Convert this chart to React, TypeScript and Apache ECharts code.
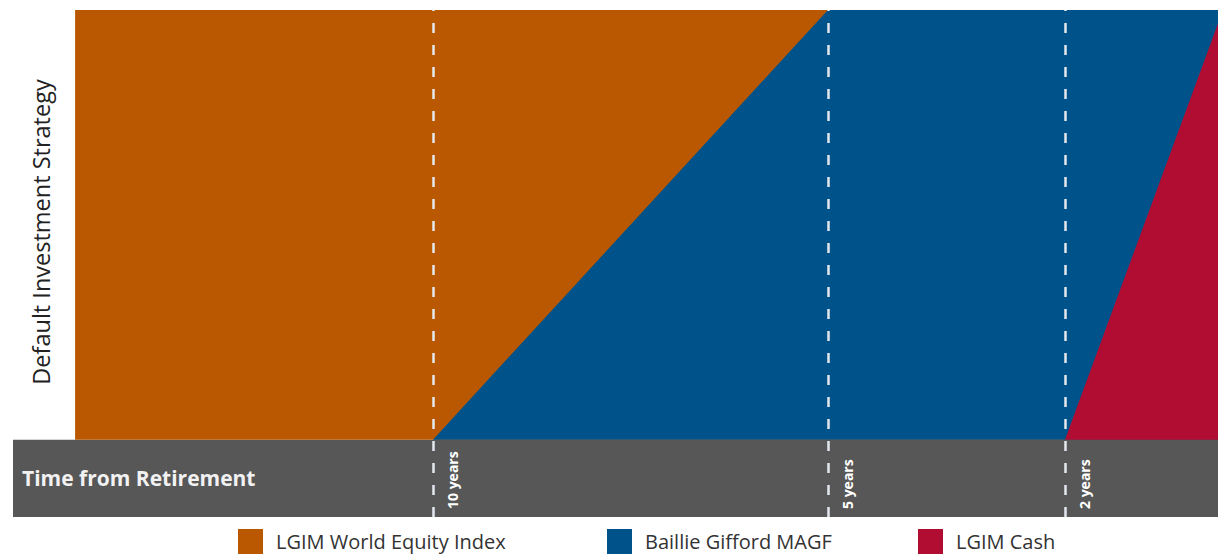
import React, { useEffect, useRef } from "react";
import * as echarts from "echarts";

const years = [14.53, 10, 5, 2, 0];
const equity = [100, 100, 0, 0, 0];
const magf = [0, 0, 100, 100, 0];
const cash = [0, 0, 0, 0, 100];
const milestones = [10, 5, 2];
const seriesNames = ["LGIM World Equity Index", "Baillie Gifford MAGF", "LGIM Cash"];
const colors = ["#b95800", "#00528a", "#b10d33"];

const FONT = "Open Sans";

export default function App() {
  const ref = useRef<HTMLDivElement>(null);
  useEffect(() => {
    if (!ref.current) return;
    const chart = echarts.init(ref.current, undefined, { renderer: "svg" });
    // cumulative tops, stacking order bottom→top: cash, magf, equity
    const cashTop = cash.map((v) => v);
    const magfTop = cash.map((v, i) => v + magf[i]);
    const equityTop = cash.map((v, i) => v + magf[i] + equity[i]);
    const pair = (vals: number[]) => years.map((y, i) => [y, vals[i]]);
    const area = (name: string, vals: number[], color: string, z: number) => ({
      name,
      type: "line",
      data: pair(vals),
      symbol: "none",
      z,
      lineStyle: { width: 0 },
      areaStyle: { color, opacity: 1, origin: 0 },
      itemStyle: { color },
    });
    const legendLefts = [238, 607, 918];
    chart.setOption({
      animation: false,
      grid: { left: 13, right: 0, top: 10, bottom: 38 },
      xAxis: {
        type: "value",
        inverse: true,
        min: 0.063,
        max: 15.316,
        show: false,
        splitLine: { show: false },
      },
      yAxis: {
        type: "value",
        min: -18,
        max: 100,
        show: false,
        splitLine: { show: false },
      },
      legend: seriesNames.map((n, i) => ({
        data: [n],
        left: legendLefts[i],
        top: 529,
        padding: 0,
        itemWidth: 25,
        itemHeight: 25,
        icon: "rect",
        textStyle: { fontFamily: FONT, fontSize: 20, color: "#333", padding: [0, 0, 0, 8] },
        selectedMode: false,
      })),
      series: [
        area(seriesNames[0], equityTop, colors[0], 2),
        area(seriesNames[1], magfTop, colors[1], 3),
        area(seriesNames[2], cashTop, colors[2], 4),
        {
          name: "band",
          type: "line",
          data: [],
          z: 1,
          markArea: {
            silent: true,
            itemStyle: { color: "#575757" },
            data: [[{ xAxis: "min", yAxis: -18 }, { xAxis: "max", yAxis: 0 }]],
          },
        },
        {
          name: "milestones",
          type: "line",
          data: [],
          z: 6,
          markLine: {
            silent: true,
            symbol: ["none", "none"],
            lineStyle: { type: [10, 12], color: "#e4e8ee", width: 2.5 },
            label: {
              show: true,
              position: "insideStartBottom",
              distance: [8, 13],
              formatter: (p: any) => `${p.value} years`,
              color: "#ffffff",
              fontFamily: FONT,
              fontWeight: "bold",
              fontSize: 14,
            },
            data: milestones.map((m) => ({ xAxis: m })),
          },
        },
      ],
      graphic: [
        {
          type: "text",
          x: 41,
          y: 232,
          rotation: Math.PI / 2,
          style: {
            text: "Default Investment Strategy",
            fontFamily: FONT,
            fontSize: 23.5,
            fill: "#222",
            align: "center",
            verticalAlign: "middle",
          },
        },
        {
          type: "text",
          x: 22,
          y: 478,
          z: 10,
          style: {
            text: "Time from Retirement",
            fontFamily: FONT,
            fontSize: 21,
            fontWeight: "bold",
            fill: "#f2f2f2",
            align: "left",
            verticalAlign: "middle",
          },
        },
      ],
    });
    return () => chart.dispose();
  }, []);
  return (
    <div
      ref={ref}
      style={{ position: "absolute", left: 0, top: 0, width: 1218, height: 555 }}
    />
  );
}
